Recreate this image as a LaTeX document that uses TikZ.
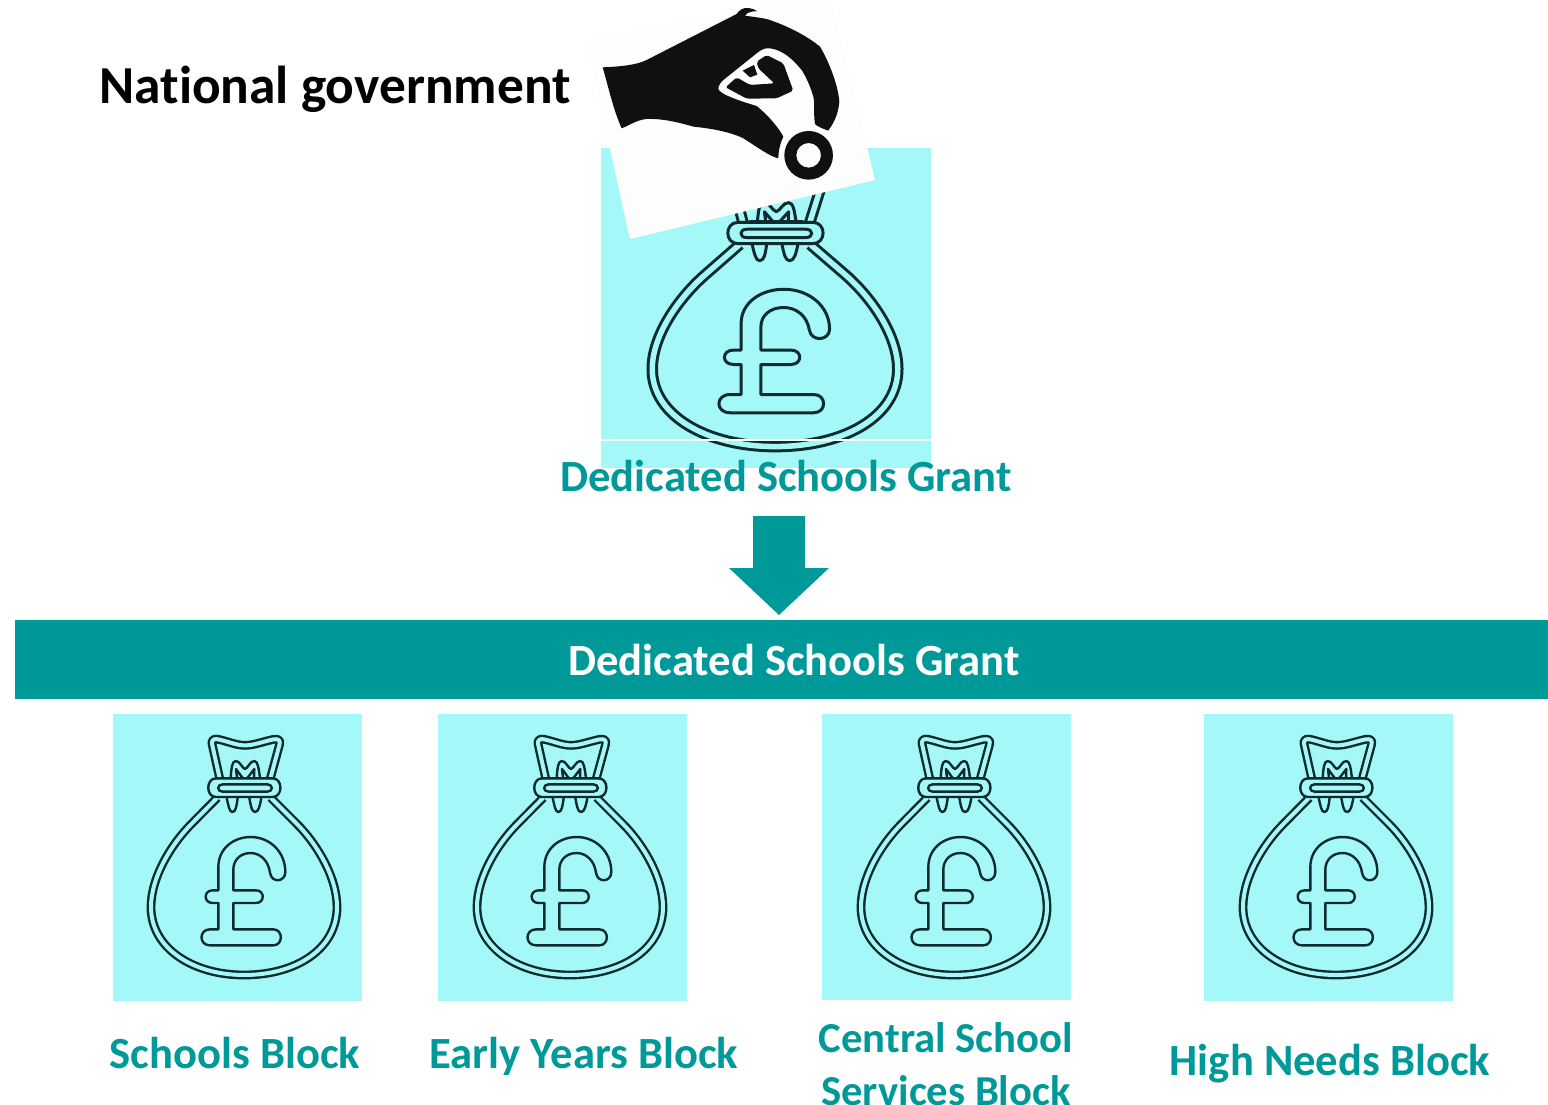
\documentclass[tikz,border=0pt]{standalone}
\usepackage{fontspec}
\setmainfont[Ligatures=CommonOff]{Carlito}
\definecolor{teal1}{HTML}{009999}
\definecolor{tile}{HTML}{A5F8F8}
\definecolor{ink}{HTML}{0E2B2E}
\definecolor{handk}{HTML}{0F1110}
\definecolor{paper}{HTML}{FDFDFD}
\tikzset{
  tilebox/.style={fill=tile,draw=none},
  lab/.style={text=teal1,font=\bfseries\fontsize{44.6}{48}\selectfont,align=center,inner sep=0pt,anchor=base},
  barlab/.style={text=white,font=\bfseries\fontsize{44.6}{48}\selectfont,inner sep=0pt,anchor=base}
}
% bag, drawn in the coordinates of a 3x crop, origin at the middle of the bag bottom
% #1 #2 position, #3 #4 scales, #5 line width, #6 gap
\newcommand{\moneybag}[6]{%
\begin{scope}[shift={(#1,#2)},x=#3pt,y=-#4pt]
 \begin{scope}[shift={(-432,-803)},
   dbl/.style={draw=ink,line width=#5pt,double=tile,double distance=#6pt,line join=round},
   sgl/.style={draw=ink,line width=#5pt,line join=round,line cap=round}]
  \draw[dbl] (352,262) -- (275,340) .. controls (215,400) and (153,500) .. (153,590) .. controls (153,715) and (280,794) .. (432,794) .. controls (590,794) and (711,715) .. (711,590) .. controls (711,500) and (650,400) .. (590,340) -- (512,262);
  \draw[dbl] (360,208) -- (337,105) .. controls (332,85) and (345,85) .. (355,87) .. controls (390,95) and (410,105) .. (435,105) .. controls (460,105) and (485,95) .. (520,87) .. controls (535,85) and (543,88) .. (538,105) -- (510,208);
  \draw[sgl] (375,203) -- (495,203);
  \fill[tile] (345,207) -- (520,207) .. controls (548,207) and (548,258) .. (520,258) -- (345,258) .. controls (317,258) and (317,207) .. (345,207) -- cycle;
  \draw[sgl] (348,204) -- (518,204) .. controls (549,204) and (549,260) .. (518,260) -- (348,260) .. controls (317,260) and (317,204) .. (348,204) -- cycle;
  \draw[sgl] (368,222) -- (502,222) .. controls (520,222) and (520,244) .. (502,244) -- (368,244) .. controls (350,244) and (350,222) .. (368,222) -- cycle;
  \draw[sgl] (392,203) .. controls (394,175) and (396,152) .. (407,152) .. controls (420,152) and (425,172) .. (435,176) .. controls (445,172) and (450,152) .. (463,152) .. controls (474,152) and (476,175) .. (480,203);
  \draw[sgl] (411,203) -- (408,176) -- (428,203) (462,203) -- (463,176) -- (442,203);
  \draw[sgl] (380,262) .. controls (385,285) and (388,305) .. (397,305) .. controls (408,305) and (410,285) .. (413,262);
  \draw[sgl] (448,262) .. controls (452,285) and (455,305) .. (465,305) .. controls (476,305) and (480,285) .. (484,262);
  \draw[sgl] (355,540) -- (355,470) .. controls (355,415) and (400,380) .. (452,380) .. controls (510,380) and (556,425) .. (556,485) .. controls (556,515) and (515,520) .. (510,487) .. controls (505,450) and (480,428) .. (452,428) .. controls (420,428) and (400,450) .. (400,478) -- (400,540) -- (468,540) .. controls (495,540) and (495,578) .. (468,578) -- (400,578) -- (400,657) -- (520,657) .. controls (550,657) and (550,705) .. (520,705) -- (330,705) .. controls (296,705) and (296,657) .. (330,657) -- (355,657) -- (355,578) -- (338,578) .. controls (310,578) and (310,540) .. (338,540) -- cycle;
 \end{scope}
\end{scope}}
\begin{document}
\begin{tikzpicture}[x=1pt,y=-1pt]
\useasboundingbox (0,0) rectangle (1548,1105);
\fill[white] (0,0) rectangle (1548,1105);
% top tile
\fill[tilebox] (601,148) rectangle (931,468);
\moneybag{775}{450}{0.44}{0.38}{3}{5.5}
\draw[white,line width=1.5pt] (601,440) -- (931,440);
\node[lab] (dsg) at (786,491.5) {Dedicated Schools Grant};
% paper and hand
\begin{scope}
\clip (0,0) rectangle (1548,1105);
\fill[paper] (630,239) -- (875,180) -- (830,-5) -- (586,40) -- cycle;
\end{scope}
\begin{scope}[shift={(580,0)},x=0.3333pt,y=-0.3333pt]
 \fill[handk] (68,202) .. controls (120,200) and (170,195) .. (200,180) -- (470,42) .. controls (478,30) and (490,22) .. (505,24) .. controls (515,25) and (525,28) .. (532,34) .. controls (515,33) and (500,38) .. (495,47) .. controls (530,52) and (560,55) .. (575,62) .. controls (640,85) and (690,115) .. (720,140) .. controls (750,190) and (775,260) .. (778,305) .. controls (775,345) and (760,370) .. (745,392) .. controls (725,385) and (710,378) .. (705,372) .. controls (700,340) and (705,310) .. (700,290) .. controls (690,255) and (675,225) .. (665,210) .. controls (640,180) and (610,150) .. (570,145) .. controls (555,143) and (545,148) .. (530,160) -- (430,240) .. controls (415,255) and (412,265) .. (418,272) .. controls (430,285) and (470,300) .. (530,318) .. controls (570,350) and (600,390) .. (610,410) .. controls (600,430) and (595,455) .. (595,475) .. controls (570,470) and (530,440) .. (490,415) .. controls (450,395) and (390,385) .. (340,380) .. controls (290,365) and (240,355) .. (200,357) .. controls (170,360) and (150,375) .. (125,385) .. controls (100,330) and (85,260) .. (68,202) -- cycle;
 \fill[handk,rounded corners=2pt] (560,165) -- (610,190) -- (640,272) -- (590,295) -- (500,296) -- (437,262) -- (470,232) -- (510,255) -- (583,250) -- (535,205) -- (530,185) -- cycle;
 \fill[handk] (488,212) -- (522,195) -- (532,224) -- (510,232) -- cycle;
 \fill[handk,even odd rule] (686,466) circle[radius=73] (686,466) circle[radius=37];
\end{scope}
\node[inner sep=0pt,anchor=base,font=\bfseries\fontsize{53.4}{56}\selectfont] (natgov) at (335,104) {National government};
% arrow
\fill[teal1] (753,516) -- (805,516) -- (805,568) -- (829,568) -- (779,615) -- (729,568) -- (753,568) -- cycle;
% bar
\fill[teal1] (15,620) rectangle (1548,699);
\node[barlab] (bar) at (794,675.5) {Dedicated Schools Grant};
% tiles
\fill[tilebox] (113,714) rectangle (362,1001);
\fill[tilebox] (438,714) rectangle (687,1001);
\fill[tilebox] (822,714) rectangle (1071,1000);
\fill[tilebox] (1204,714) rectangle (1453,1001);
\moneybag{244}{978}{0.3333}{0.3333}{2.4}{4}
\moneybag{570}{978}{0.3333}{0.3333}{2.4}{4}
\moneybag{954}{978}{0.3333}{0.3333}{2.4}{4}
\moneybag{1336}{978}{0.3333}{0.3333}{2.4}{4}
\node[lab] (a) at (235,1068) {Schools Block};
\node[lab] (b) at (584,1068) {Early Years Block};
\node[lab,anchor=center,font=\bfseries\fontsize{42.7}{52.5}\selectfont] (c) at (946,1064) {Central School\\Services Block};
\node[lab] (d) at (1330,1075) {High Needs Block};
\end{tikzpicture}
\end{document}
